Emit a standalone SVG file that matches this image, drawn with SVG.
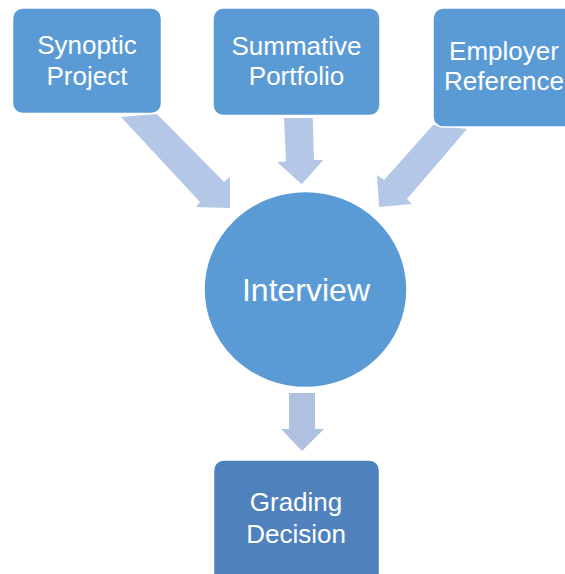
<svg xmlns="http://www.w3.org/2000/svg" width="565" height="574" viewBox="0 0 565 574">
<style>
.box{fill:#5b9bd5;stroke:#ffffff;stroke-width:1.5}
.dark{fill:#4f81bd}
.arr{fill:#b4c7e7}
.arr2{fill:#b0c1df}
text{font-family:"Liberation Sans",Arial,sans-serif;fill:#ffffff;text-anchor:middle}
.t{font-size:26px}
.big{font-size:32px}
</style>
<rect width="565" height="574" fill="#ffffff"/>
<g id="connectors">
<polygon class="arr" points="121,117 157,114 224,182 230,177 230,208 196,207 200,202"/>
<polygon class="arr" points="284,118 312.7,118 314,160 323.3,160 301.7,184.3 277.3,162.3 286,161.5"/>
<polygon class="arr" points="433,125 467,129 407,199 412,204 379,207 377,175 384,180"/>
<polygon class="arr2" points="289,393 315,393 315,429 324,429 302,451 281,429 289,429"/>
</g>
<g id="synoptic">
<rect class="box" x="12.5" y="8" width="149" height="105.5" rx="10"/>
<text class="t" x="87" y="54">Synoptic</text>
<text class="t" x="87" y="85">Project</text>
</g>
<g id="summative">
<rect class="box" x="213" y="8" width="167" height="107.5" rx="10"/>
<text class="t" x="296.5" y="55">Summative</text>
<text class="t" x="296.5" y="85">Portfolio</text>
</g>
<g id="employer">
<rect class="box" x="433" y="8" width="167" height="119" rx="10"/>
<text class="t" x="504" y="60">Employer</text>
<text class="t" x="504" y="90">Reference</text>
</g>
<g id="interview">
<ellipse class="box" cx="305.5" cy="289.5" rx="101.5" ry="98"/>
<text class="big" x="306" y="301">Interview</text>
</g>
<g id="grading">
<rect class="box dark" x="213.5" y="460" width="166" height="130" rx="10"/>
<text class="t" x="296" y="511">Grading</text>
<text class="t" x="296" y="543">Decision</text>
</g>
</svg>
